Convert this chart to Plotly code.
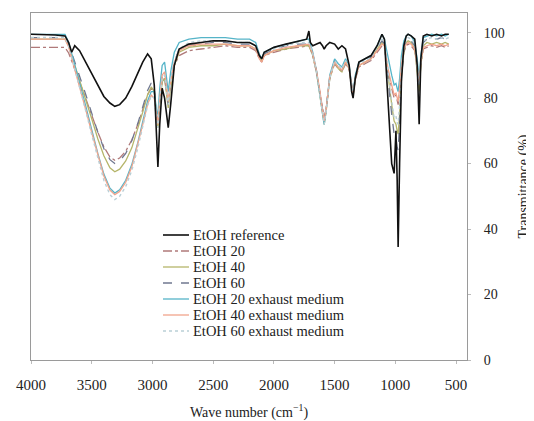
import plotly.graph_objects as go

wavenumber = [4000, 3900, 3800, 3720, 3690, 3665, 3640, 3600, 3550, 3500,
              3450, 3400, 3350, 3310, 3270, 3220, 3170, 3120, 3080, 3040,
              3010, 2985, 2965, 2955, 2940, 2920, 2900, 2885, 2870, 2850,
              2820, 2780, 2700, 2600, 2500, 2400, 2300, 2200, 2150, 2120,
              2100, 2080, 2000, 1900, 1800, 1730, 1712, 1700, 1680, 1650,
              1620, 1600, 1586, 1570, 1540, 1500, 1470, 1440, 1410, 1380,
              1360, 1348, 1330, 1300, 1250, 1200, 1150, 1110, 1090, 1060,
              1030, 1010, 995, 985, 977, 965, 950, 930, 910, 895,
              870, 840, 820, 804, 790, 770, 740, 700, 660, 620,
              590, 560]

etoh_reference = [99.5, 99.5, 99.3, 99.0, 97.0, 94.0, 96.0, 94.5, 91.0, 87.5,
                  84.0, 80.5, 78.5, 77.5, 78.0, 80.0, 83.5, 87.5, 91.0, 93.5,
                  92.0, 84.0, 65.0, 59.0, 72.0, 83.0, 80.0, 76.0, 71.0, 78.0,
                  90.0, 95.0, 96.5, 97.0, 97.5, 97.5, 97.0, 97.0, 96.0, 93.0,
                  92.0, 94.0, 95.5, 96.5, 97.5, 98.0, 100.5, 97.0, 96.0, 96.5,
                  97.0, 96.0, 95.0, 96.0, 97.0, 96.5, 95.0, 96.0, 95.0, 90.0,
                  82.0, 80.0, 86.0, 91.0, 92.0, 93.0, 96.0, 99.5, 98.0, 80.0,
                  60.0, 57.0, 70.0, 55.0, 34.5, 60.0, 85.0, 96.0, 99.0, 99.5,
                  99.0, 98.0, 90.0, 72.0, 92.0, 99.0, 99.5, 99.0, 99.5, 99.0,
                  99.5, 99.5]

etoh_20 = [95.5, 95.5, 95.5, 95.5, 93.8, 91.4, 88.6, 85.2, 80.0, 74.8,
           69.6, 65.1, 62.0, 61.0, 61.7, 63.8, 67.2, 72.0, 76.5, 81.0,
           83.0, 82.0, 74.0, 72.0, 78.0, 85.0, 86.0, 83.0, 79.0, 84.0,
           90.0, 93.0, 94.5, 95.0, 95.5, 96.0, 95.5, 95.5, 94.5, 92.0,
           91.0, 93.0, 94.0, 95.0, 95.5, 96.0, 96.0, 95.0, 93.0, 88.0,
           82.0, 77.0, 74.0, 77.0, 86.0, 90.5, 89.0, 88.0, 90.5, 88.5,
           83.0, 81.0, 85.5, 89.5, 90.5, 91.5, 94.0, 96.0, 95.5, 88.0,
           83.0, 80.0, 81.0, 78.5, 78.0, 82.0, 89.0, 94.0, 96.0, 96.5,
           96.0, 94.5, 89.0, 84.0, 90.0, 95.0, 95.5, 96.0, 95.5, 96.0,
           95.5, 96.0]

etoh_40 = [98.0, 98.0, 98.0, 98.0, 96.0, 93.1, 89.9, 85.9, 79.8, 73.7,
           67.6, 62.4, 58.7, 57.5, 58.3, 60.8, 64.8, 70.5, 75.7, 81.0,
           83.4, 82.0, 73.0, 71.0, 77.0, 85.0, 86.0, 82.0, 77.0, 83.0,
           90.0, 94.0, 95.5, 96.0, 96.0, 96.5, 96.0, 96.0, 95.0, 92.5,
           91.5, 93.0, 94.5, 95.0, 96.0, 96.0, 96.0, 95.0, 93.0, 88.0,
           81.0, 75.0, 72.0, 76.0, 86.0, 91.0, 89.0, 88.0, 91.0, 89.0,
           83.0, 80.5, 86.0, 90.0, 91.0, 92.0, 95.0, 97.0, 96.0, 86.0,
           78.0, 73.0, 72.0, 70.0, 69.0, 75.0, 87.0, 94.0, 97.0, 97.5,
           97.0, 95.0, 88.0, 82.0, 90.0, 96.0, 97.0, 96.5, 97.0, 96.5,
           97.0, 96.5]

etoh_60 = [98.5, 98.5, 98.5, 98.5, 96.6, 93.9, 90.8, 87.0, 81.2, 75.4,
           69.6, 64.6, 61.2, 60.0, 60.8, 63.1, 67.0, 72.3, 77.3, 82.3,
           84.6, 83.0, 74.0, 72.0, 79.0, 87.0, 87.0, 83.0, 78.0, 85.0,
           91.0, 95.0, 96.0, 96.5, 97.0, 97.0, 96.5, 96.5, 95.5, 92.5,
           91.5, 93.5, 95.0, 96.0, 96.5, 96.5, 96.5, 95.5, 93.5, 88.5,
           81.5, 75.5, 73.0, 76.5, 86.5, 91.5, 89.5, 88.5, 91.5, 89.5,
           83.5, 81.0, 86.5, 90.5, 91.5, 92.5, 95.5, 97.5, 96.5, 85.0,
           75.0, 69.0, 68.0, 65.0, 64.0, 72.0, 86.0, 94.5, 97.5, 98.0,
           97.5, 96.0, 89.0, 83.0, 91.0, 97.0, 98.0, 98.5, 98.0, 98.5,
           98.0, 98.5]

etoh_20_exhaust = [99.5, 99.5, 99.5, 99.5, 97.1, 93.7, 89.8, 85.0, 77.7, 70.4,
                   63.1, 56.8, 52.5, 51.0, 52.0, 54.9, 59.7, 66.5, 72.8, 79.1,
                   82.0, 82.0, 76.0, 75.0, 83.0, 90.0, 91.0, 87.0, 82.0, 88.0,
                   94.0, 97.0, 98.0, 98.5, 98.5, 98.5, 98.0, 98.0, 97.0, 93.5,
                   92.0, 94.0, 95.5, 96.5, 97.5, 98.0, 98.0, 96.5, 94.0, 88.5,
                   81.5, 75.5, 72.0, 76.0, 87.0, 92.0, 90.5, 89.5, 92.0, 90.0,
                   84.0, 81.5, 87.0, 91.0, 92.0, 93.0, 96.0, 99.5, 98.0, 92.0,
                   87.0, 84.0, 84.5, 83.0, 82.0, 86.0, 93.0, 97.5, 99.0, 99.5,
                   99.0, 97.0, 92.0, 86.0, 93.0, 98.5, 99.0, 99.5, 99.0, 99.5,
                   99.0, 99.5]

etoh_40_exhaust = [98.0, 98.0, 98.0, 98.0, 95.6, 92.3, 88.5, 83.8, 76.6, 69.5,
                   62.4, 56.2, 51.9, 50.5, 51.5, 54.3, 59.0, 65.7, 71.9, 78.1,
                   80.9, 80.0, 74.0, 72.0, 80.0, 87.0, 88.0, 84.0, 79.0, 85.0,
                   91.0, 94.5, 96.0, 96.5, 96.5, 96.5, 96.0, 96.0, 95.0, 92.0,
                   91.0, 93.0, 94.5, 95.5, 96.0, 96.5, 96.5, 95.5, 93.5, 88.5,
                   82.0, 76.0, 73.0, 76.5, 86.5, 91.0, 89.5, 88.5, 91.0, 89.0,
                   83.5, 81.0, 86.0, 90.0, 91.0, 92.0, 94.5, 96.5, 96.0, 89.0,
                   84.0, 81.0, 81.5, 79.5, 79.0, 83.0, 90.0, 95.0, 96.5, 97.0,
                   96.5, 95.0, 90.0, 85.0, 91.0, 95.5, 96.0, 96.5, 96.0, 96.5,
                   96.0, 96.5]

etoh_60_exhaust = [98.5, 98.5, 98.5, 98.5, 96.0, 92.6, 88.6, 83.7, 76.2, 68.8,
                   61.4, 54.9, 50.5, 49.0, 50.0, 53.0, 57.9, 64.8, 71.3, 77.7,
                   80.7, 80.0, 73.0, 71.0, 79.0, 86.0, 87.0, 83.0, 78.0, 85.0,
                   91.0, 95.0, 97.0, 97.5, 97.5, 97.5, 97.0, 97.0, 96.0, 93.0,
                   92.0, 94.0, 95.0, 96.0, 97.0, 97.0, 97.0, 96.0, 93.5, 88.0,
                   81.0, 75.0, 72.0, 76.0, 86.0, 91.5, 90.0, 89.0, 91.5, 89.5,
                   83.5, 81.0, 86.5, 90.5, 91.5, 92.5, 95.5, 98.0, 97.0, 87.0,
                   79.0, 74.0, 74.5, 72.5, 72.0, 78.0, 88.0, 95.5, 98.0, 98.5,
                   98.0, 96.5, 90.0, 84.0, 91.0, 97.5, 98.0, 98.5, 98.0, 98.5,
                   98.0, 98.5]

series_names = ["EtOH reference", "EtOH 20", "EtOH 40", "EtOH 60",
                "EtOH 20 exhaust medium", "EtOH 40 exhaust medium",
                "EtOH 60 exhaust medium"]
series_values = [etoh_reference, etoh_20, etoh_40, etoh_60,
                 etoh_20_exhaust, etoh_40_exhaust, etoh_60_exhaust]
colors = ["#111111", "#b07a7a", "#b5b56a", "#707890",
          "#55b4c8", "#f2a48c", "#b9cfd6"]
dashes = ["solid", "dashdot", "solid", "dash", "solid", "solid", "dot"]
widths = [1.6, 1.3, 1.3, 1.3, 1.3, 1.3, 1.4]

x_ticks = [4000, 3500, 3000, 2500, 2000, 1500, 1000, 500]
y_ticks = [0, 20, 40, 60, 80, 100]

# the page body adds an 8px offset; size the figure so the frame lands
# where the reference draws it (plot area x 31..467, y 13..360 on screen)
BODY = 8
W, H = 534 - BODY, 421 - BODY
ML, MR, MT, MB = 31 - BODY, 67, 13 - BODY, 61
PW, PH = W - ML - MR, H - MT - MB

fig = go.Figure()
order = [1, 2, 3, 4, 5, 6, 0]  # reference drawn last (on top)
for i in order:
    fig.add_trace(go.Scatter(
        x=wavenumber, y=series_values[i], mode="lines", name=series_names[i],
        line=dict(color=colors[i], dash=dashes[i], width=widths[i]),
        showlegend=False,
    ))


def px_to_paper(px, py):
    # screen pixels -> paper coordinates
    return (px - BODY - ML) / PW, (MT + PH - (py - BODY)) / PH


shapes, annotations = [], []
for i, name in enumerate(series_names):
    row_y = 235 + 16 * i
    x0, yy = px_to_paper(163, row_y)
    x1, _ = px_to_paper(189, row_y)
    xt, _ = px_to_paper(191, row_y)
    shapes.append(dict(type="line", xref="paper", yref="paper",
                       x0=x0, x1=x1, y0=yy, y1=yy,
                       line=dict(color=colors[i], dash=dashes[i],
                                 width=widths[i])))
    annotations.append(dict(text=name, xref="paper", yref="paper",
                            x=xt, y=yy, xanchor="left", yanchor="middle",
                            showarrow=False,
                            font=dict(size=14.5, color="#222")))

fig.update_layout(
    width=W, height=H,
    margin=dict(l=ML, r=MR, t=MT, b=MB),
    paper_bgcolor="white", plot_bgcolor="white",
    font=dict(family="Liberation Serif", size=14, color="#222"),
    showlegend=False,
    shapes=shapes, annotations=annotations,
    xaxis=dict(range=[4000, 410], tickvals=x_ticks, automargin=False,
               showline=True, linecolor="#9a9a9a", linewidth=1, mirror=True,
               ticks="outside", ticklen=3, tickcolor="#bbbbbb",
               tickfont=dict(size=15),
               ticklabelstandoff=8, showgrid=False, zeroline=False,
               title=dict(text="Wave number (cm<sup>−1</sup>)", standoff=16,
                          font=dict(size=14))),
    yaxis=dict(range=[0, 106], tickvals=y_ticks, side="right",
               automargin=False,
               showline=True, linecolor="#9a9a9a", linewidth=1, mirror=True,
               ticks="outside", ticklen=3, tickcolor="#bbbbbb",
               tickfont=dict(size=14),
               ticklabelstandoff=10, showgrid=False, zeroline=False,
               title=dict(text="Transmittance (%)", standoff=14,
                          font=dict(size=14))),
)

fig.write_html("out.html")
